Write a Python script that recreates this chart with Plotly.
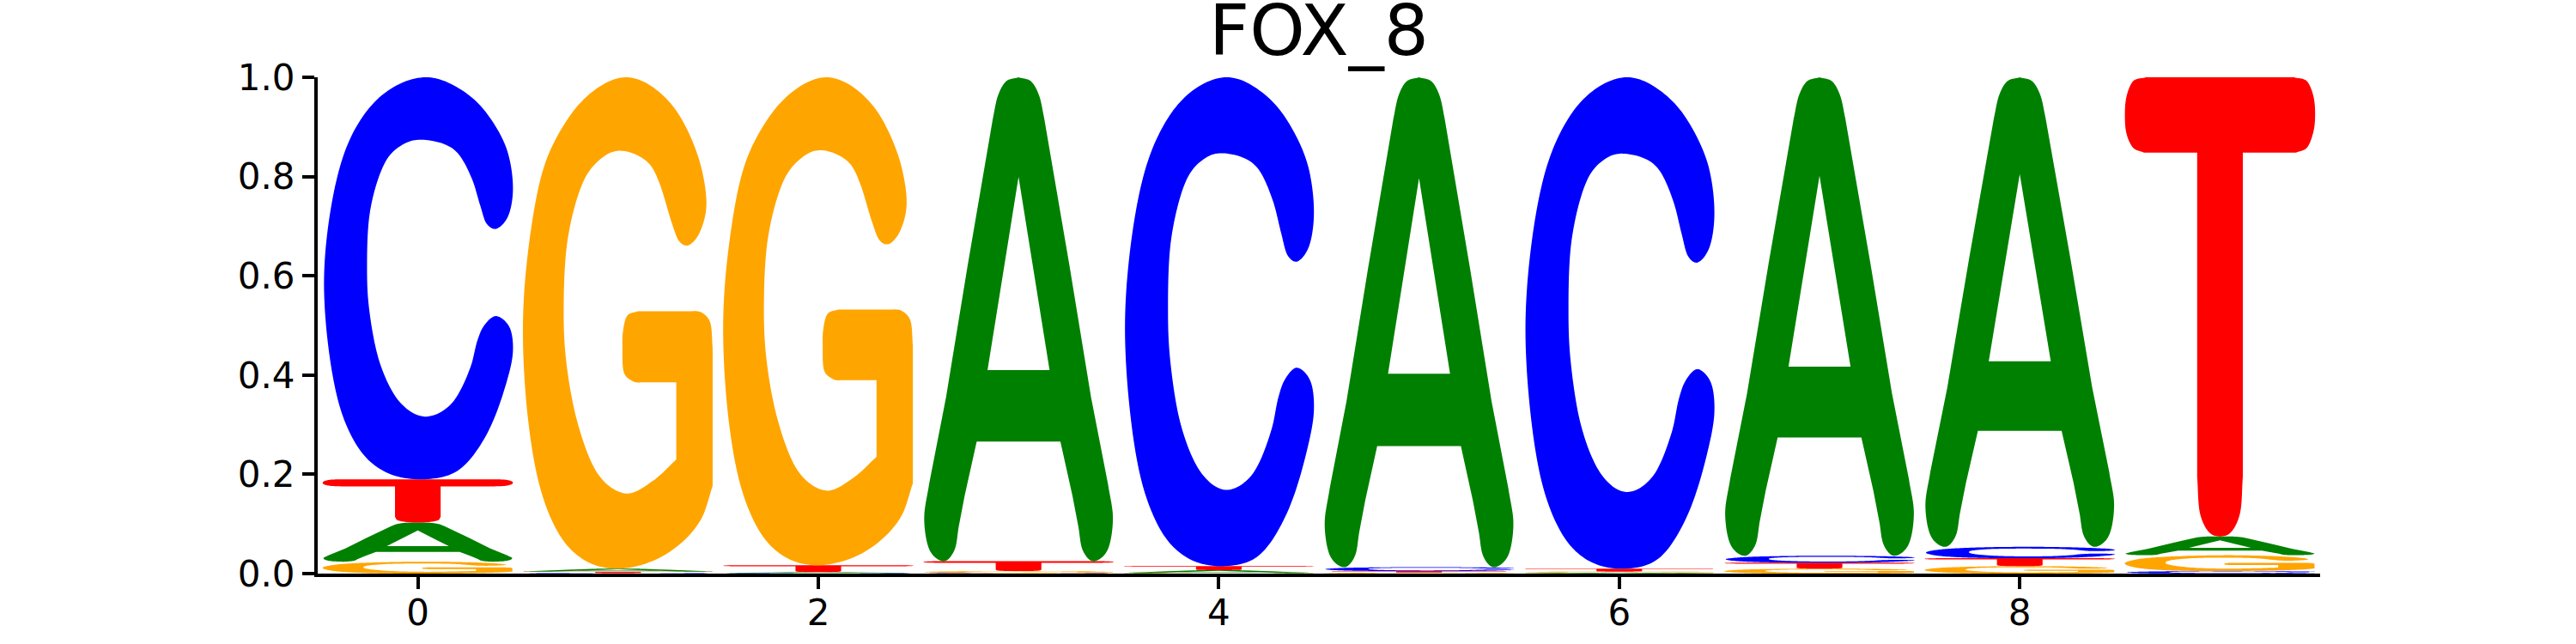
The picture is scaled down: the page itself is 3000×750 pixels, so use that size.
import numpy as np
import plotly.graph_objects as go

# sequence logo FOX_8 : probability of each base per position
positions = [0, 1, 2, 3, 4, 5, 6, 7, 8, 9]
prob_a = [0.079, 0.006, 0.002, 0.975, 0.006, 0.987, 0.002, 0.964, 0.946, 0.038]
prob_c = [0.810, 0.001, 0.001, 0.001, 0.985, 0.008, 0.990, 0.014, 0.023, 0.005]
prob_g = [0.024, 0.990, 0.983, 0.004, 0.001, 0.002, 0.002, 0.010, 0.015, 0.032]
prob_t = [0.087, 0.003, 0.014, 0.020, 0.008, 0.003, 0.006, 0.012, 0.016, 0.925]

x_ticks = [0, 2, 4, 6, 8]
y_ticks = [0.0, 0.2, 0.4, 0.6, 0.8, 1.0]
title = "FOX_8"

colors = {"A": "#008000", "C": "#0000ff", "G": "#ffa500", "T": "#ff0000"}
letter_width = 0.95


def smooth(pts, closed=False, n=12):
  # centripetal catmull-rom through the given points
  p = np.asarray(pts, float)
  if closed:
    ext = np.vstack([p[-1], p, p[0], p[1]])
  else:
    ext = np.vstack([2 * p[0] - p[1], p, 2 * p[-1] - p[-2]])
  out = []
  for i in range(1, len(ext) - 2):
    p0, p1, p2, p3 = ext[i - 1:i + 3]
    t0 = 0.0
    t1 = t0 + np.linalg.norm(p1 - p0) ** 0.5
    t2 = t1 + np.linalg.norm(p2 - p1) ** 0.5
    t3 = t2 + np.linalg.norm(p3 - p2) ** 0.5
    for t in np.linspace(t1, t2, n, endpoint=False):
      a1 = (t1 - t) / (t1 - t0) * p0 + (t - t0) / (t1 - t0) * p1
      a2 = (t2 - t) / (t2 - t1) * p1 + (t - t1) / (t2 - t1) * p2
      a3 = (t3 - t) / (t3 - t2) * p2 + (t - t2) / (t3 - t2) * p3
      b1 = (t2 - t) / (t2 - t0) * a1 + (t - t0) / (t2 - t0) * a2
      b2 = (t3 - t) / (t3 - t1) * a2 + (t - t1) / (t3 - t1) * a3
      out.append((t2 - t) / (t2 - t1) * b1 + (t - t1) / (t2 - t1) * b2)
  if not closed:
    out.append(p[-1])
  return np.array(out)


def glyph_a():
  outer = np.vstack([
    smooth([(0.5, 1.0), (0.43, 0.99), (0.39, 0.96), (0.365, 0.915)]),
    [(0.232, 0.61), (0.119, 0.339)],
    smooth([(0.03, 0.16), (0.004, 0.088), (0.03, 0.025), (0.111, 0.0), (0.165, 0.025), (0.185, 0.07)]),
    [(0.217, 0.136), (0.28, 0.247), (0.72, 0.247), (0.783, 0.136)],
    smooth([(0.815, 0.07), (0.835, 0.025), (0.889, 0.0), (0.97, 0.025), (0.996, 0.088), (0.97, 0.16)]),
    [(0.881, 0.339), (0.768, 0.61)],
    smooth([(0.635, 0.915), (0.61, 0.96), (0.57, 0.99), (0.5, 1.0)]),
  ])
  hole = np.array([(0.337, 0.395), (0.663, 0.395), (0.5, 0.794)])
  return [outer, hole]


def glyph_c():
  pts = [(1.0, 0.72), (0.971, 0.816), (0.851, 0.917), (0.70, 0.977), (0.542, 1.0),
         (0.37, 0.975), (0.23, 0.915), (0.12, 0.82), (0.045, 0.68), (0.007, 0.5),
         (0.035, 0.31), (0.10, 0.165), (0.20, 0.07), (0.33, 0.018), (0.535, 0.0),
         (0.72, 0.025), (0.86, 0.11), (0.956, 0.225), (1.0, 0.3185), (0.985, 0.375),
         (0.911, 0.406), (0.845, 0.38), (0.813, 0.345), (0.776, 0.278), (0.68, 0.19),
         (0.535, 0.156), (0.40, 0.195), (0.30, 0.29), (0.245, 0.42), (0.233, 0.52),
         (0.25, 0.67), (0.33, 0.79), (0.43, 0.835), (0.542, 0.844), (0.70, 0.816),
         (0.783, 0.749), (0.828, 0.681), (0.86, 0.637), (0.911, 0.623), (0.975, 0.655)]
  return [smooth(pts, closed=True)]


def glyph_g():
  ring = np.vstack([
    [(0.806, 0.379)],
    smooth([(0.806, 0.222), (0.681, 0.178), (0.538, 0.153), (0.39, 0.195), (0.285, 0.30),
            (0.228, 0.42), (0.214, 0.52), (0.235, 0.67), (0.32, 0.79), (0.43, 0.84),
            (0.53, 0.85), (0.666, 0.823), (0.718, 0.784), (0.783, 0.703), (0.82, 0.667),
            (0.869, 0.658), (0.93, 0.685), (0.964, 0.737), (0.937, 0.817), (0.831, 0.917),
            (0.69, 0.978), (0.538, 1.0), (0.38, 0.975), (0.235, 0.915), (0.11, 0.817),
            (0.035, 0.67), (0.0, 0.50), (0.025, 0.31), (0.09, 0.165), (0.19, 0.07),
            (0.32, 0.018), (0.515, 0.0), (0.771, 0.034), (0.937, 0.101), (0.997, 0.168)]),
    smooth([(0.997, 0.449), (0.985, 0.50), (0.94, 0.521), (0.861, 0.524)]),
    smooth([(0.605, 0.524), (0.545, 0.513), (0.525, 0.48), (0.523, 0.45), (0.53, 0.40),
            (0.58, 0.381), (0.636, 0.379)]),
  ])
  return [ring]


def glyph_t():
  ring = np.vstack([
    [(0.38, 0.836)],
    smooth([(0.38, 0.13), (0.395, 0.05), (0.44, 0.01), (0.5, 0.0), (0.56, 0.01),
            (0.605, 0.05), (0.62, 0.13)]),
    [(0.62, 0.836)],
    smooth([(0.9, 0.836), (0.96, 0.848), (0.993, 0.885), (1.0, 0.918), (0.993, 0.955),
            (0.96, 0.99), (0.89, 1.0)]),
    smooth([(0.11, 1.0), (0.04, 0.99), (0.007, 0.955), (0.0, 0.918), (0.007, 0.88),
            (0.04, 0.848), (0.1, 0.836)]),
  ])
  return [ring]


glyphs = {"A": glyph_a(), "C": glyph_c(), "G": glyph_g(), "T": glyph_t()}


def letter_path(letter, pos, floor, height):
  parts = []
  for ring in glyphs[letter]:
    xs = pos - letter_width / 2 + letter_width * ring[:, 0]
    ys = floor + height * ring[:, 1]
    pts = " L ".join("%.5f,%.6f" % (x, y) for x, y in zip(xs, ys))
    parts.append("M " + pts + " Z")
  return " ".join(parts)


shapes = []
for i, pos in enumerate(positions):
  col = {"A": prob_a[i], "C": prob_c[i], "G": prob_g[i], "T": prob_t[i]}
  floor = 0.0
  # small on the bottom, big on top
  for letter in sorted(col, key=lambda k: col[k]):
    h = col[letter]
    shapes.append(dict(
      type="path", xref="x", yref="y", layer="below",
      path=letter_path(letter, pos, floor, h),
      fillcolor=colors[letter], fillrule="evenodd",
      line=dict(width=0),
    ))
    floor += h

fig = go.Figure()
fig.add_trace(go.Scatter(x=positions, y=[None] * len(positions), mode="markers",
                         showlegend=False, hoverinfo="skip"))

axis_style = dict(
  showline=True, linecolor="black", linewidth=4,
  ticks="outside", ticklen=14, tickwidth=4, tickcolor="black",
  showgrid=False, zeroline=False, automargin=False,
  tickfont=dict(family="DejaVu Sans", size=42, color="black"),
)

fig.update_layout(
  width=3000, height=750,
  margin=dict(l=370, r=298, t=90, b=82),
  paper_bgcolor="white", plot_bgcolor="white",
  shapes=shapes,
  showlegend=False,
  title=dict(text=title, x=0.5, xref="paper", y=1 - 35 / 750, yref="container",
             xanchor="center", yanchor="middle",
             font=dict(family="DejaVu Sans", size=82, color="black")),
  xaxis=dict(range=[-0.5, 9.5], tickvals=x_ticks, ticklabelstandoff=-8, **axis_style),
  yaxis=dict(range=[0, 1], tickvals=y_ticks, tickformat=".1f", ticklabelstandoff=0, **axis_style),
)

# drop the default page margin so the figure sits at the window corner
fig.write_html("out.html", config={"displayModeBar": False},
               post_script="document.body.style.margin='0';")
